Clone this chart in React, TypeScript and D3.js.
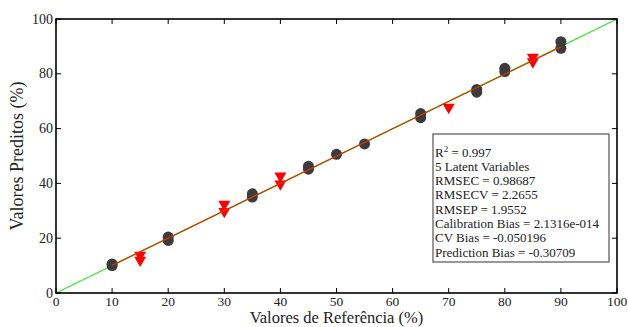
import React from 'react'
import * as d3 from 'd3'

// calibration samples (dark circles)
const calRef = [10, 10, 20, 20, 35, 35, 45, 45, 50, 55, 65, 65, 75, 75, 80, 80, 90, 90]
const calPred = [10.0, 10.6, 19.2, 20.4, 35.0, 36.2, 45.2, 46.3, 50.6, 54.4, 64.0, 65.5, 73.3, 74.3, 80.8, 82.0, 89.3, 91.7]

// prediction samples (red triangles)
const predRef = [15, 15, 30, 30, 40, 40, 70, 85, 85]
const predPred = [12.0, 13.8, 29.8, 32.4, 39.8, 42.7, 67.8, 84.4, 86.1]

// fitted line, drawn over the calibration range
const fitRange = [10, 90]
const fitSlope = 0.997
const fitIntercept = 0.1

const xTicks = [0, 10, 20, 30, 40, 50, 60, 70, 80, 90, 100]
const yTicks = [0, 20, 40, 60, 80, 100]

const statsLines = [
  'RMSEC = 0.98687',
  'RMSECV = 2.2655',
  'RMSEP = 1.9552',
  'Calibration Bias = 2.1316e-014',
  'CV Bias = -0.050196',
  'Prediction Bias = -0.30709',
]

const W = 628
const H = 327
const margin = { top: 19, right: 11, bottom: 34, left: 56 }
const width = W - margin.left - margin.right
const height = H - margin.top - margin.bottom
const font = '"Liberation Serif"'
const tickLen = 5

const App: React.FC = () => {
  const x = d3.scaleLinear().domain([0, 100]).range([0, width])
  const y = d3.scaleLinear().domain([0, 100]).range([height, 0])

  const tri = d3.symbol().type(d3.symbolTriangle).size(62)() || ''
  const fitPath = d3.line<number>()
    .x(d => x(d))
    .y(d => y(fitSlope * d + fitIntercept))(fitRange) || ''

  const bx = 433 - margin.left
  const by = 134 - margin.top
  const lineH = 14.3
  const textStyle = { fontFamily: font }

  return (
    <svg
      width={W}
      height={H}
      style={{ position: 'absolute', left: 0, top: 0, background: '#fff' }}
    >
      <g transform={`translate(${margin.left},${margin.top})`}>
        {/* y = x reference */}
        <line x1={x(0)} y1={y(0)} x2={x(100)} y2={y(100)} stroke="#33e633" strokeWidth={1.2} />

        {/* calibration points */}
        {calRef.map((r, i) => (
          <circle key={'c' + i} cx={x(r)} cy={y(calPred[i])} r={5.5} fill="#3b3b3b" />
        ))}

        {/* prediction points */}
        {predRef.map((r, i) => (
          <path
            key={'p' + i}
            d={tri}
            transform={`translate(${x(r)},${y(predPred[i])}) rotate(180)`}
            fill="#ff0000"
          />
        ))}

        {/* fit line */}
        <path d={fitPath} fill="none" stroke="#d03a00" strokeWidth={1.3} />

        {/* ticks, inward on all four sides */}
        {xTicks.map(t => (
          <g key={'xt' + t}>
            <line x1={x(t)} x2={x(t)} y1={height} y2={height - tickLen} stroke="#000" />
            <line x1={x(t)} x2={x(t)} y1={0} y2={tickLen} stroke="#000" />
            <text x={x(t)} y={height + 13} textAnchor="middle" fontSize={13.5} fill="#222" style={textStyle}>
              {t}
            </text>
          </g>
        ))}
        {yTicks.map(t => (
          <g key={'yt' + t}>
            <line x1={0} x2={tickLen} y1={y(t)} y2={y(t)} stroke="#000" />
            <line x1={width} x2={width - tickLen} y1={y(t)} y2={y(t)} stroke="#000" />
            <text x={-3} y={y(t) + 4.5} textAnchor="end" fontSize={14} fill="#222" style={textStyle}>
              {t}
            </text>
          </g>
        ))}

        {/* frame */}
        <rect x={0} y={0} width={width} height={height} fill="none" stroke="#000" strokeWidth={1.6} />

        {/* axis labels */}
        <text x={width / 2} y={height + 30} textAnchor="middle" fontSize={16.5} fill="#222" style={textStyle}>
          Valores de Referência (%)
        </text>
        <text
          transform="rotate(-90)"
          x={-height / 2}
          y={-margin.left + 23}
          textAnchor="middle"
          fontSize={18}
          fill="#222"
          style={textStyle}
        >
          Valores Preditos (%)
        </text>

        {/* stats box */}
        <rect x={bx} y={by} width={176} height={128} fill="#fff" stroke="#555" strokeWidth={1.2} />
        <g fontSize={13} fill="#222" style={textStyle}>
          <text x={bx + 2} y={by + 22.5}>
            <tspan>R</tspan>
            <tspan dy={-5} fontSize={9}>2</tspan>
            <tspan dy={5}> = 0.997</tspan>
          </text>
          <text x={bx + 2} y={by + 22.5 + lineH}>5 Latent Variables</text>
          {statsLines.map((s, i) => (
            <text key={s} x={bx + 2} y={by + 22.5 + lineH * (i + 2)}>
              {s}
            </text>
          ))}
        </g>
      </g>
    </svg>
  )
}

export default App
